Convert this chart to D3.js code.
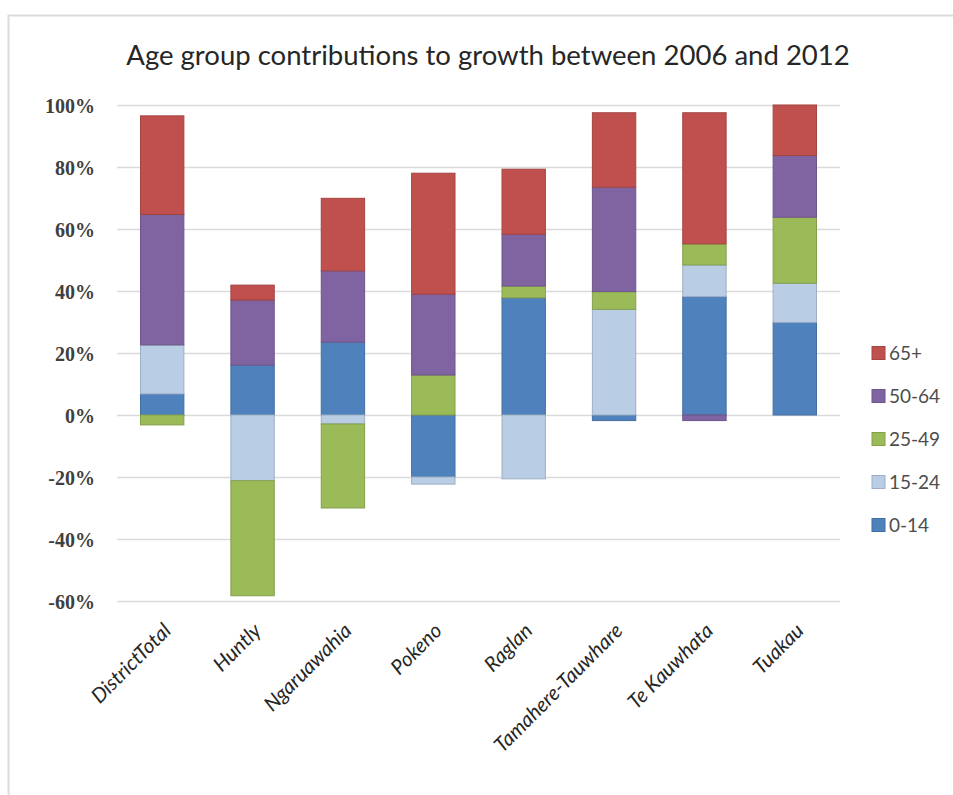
<!DOCTYPE html>
<html>
<head>
<meta charset="utf-8">
<script src="https://cdn.jsdelivr.net/npm/d3@7"></script>
<style>
  html, body { margin: 0; padding: 0; background: #fff; }
  svg { display: block; }
</style>
</head>
<body>
<svg id="chart" width="953" height="795"></svg>
<script>
// Share of population growth (2006–2012) contributed by each age group, in percent
const categories = ["DistrictTotal", "Huntly", "Ngaruawahia", "Pokeno", "Raglan",
                    "Tamahere-Tauwhare", "Te Kauwhata", "Tuakau"];
const ageGroups = ["0-14", "15-24", "25-49", "50-64", "65+"];
const age0to14  = [6.8, 16.1, 23.5, -20.0, 37.8, -1.8, 38.2, 29.9];
const age15to24 = [15.8, -21.2, -2.9, -2.3, -20.6, 34.1, 10.2, 12.6];
const age25to49 = [-3.2, -37.1, -27.1, 12.9, 3.8, 5.7, 6.8, 21.3];
const age50to64 = [42.1, 21.0, 23.0, 26.1, 16.7, 33.7, -1.8, 19.9];
const age65plus = [31.8, 4.8, 23.4, 39.0, 21.0, 24.0, 42.3, 16.3];
const yTicks = [-60, -40, -20, 0, 20, 40, 60, 80, 100];
const titleText = "Age group contributions to growth between 2006 and 2012";

const seriesValues = [age0to14, age15to24, age25to49, age50to64, age65plus];
const colors = ["#4F81BD", "#B9CDE5", "#9BBB59", "#8064A2", "#C0504D"];

const rows = categories.map((c, i) => {
  const r = { category: c };
  ageGroups.forEach((g, k) => { r[g] = seriesValues[k][i]; });
  return r;
});

const svg = d3.select("#chart");

// outer chart frame
svg.append("rect")
  .attr("x", 8.5).attr("y", 15.5)
  .attr("width", 1000).attr("height", 900)
  .attr("fill", "#fff").attr("stroke", "#dcdcdc").attr("stroke-width", 2);

const x = d3.scaleBand().domain(categories).range([117, 840])
  .paddingInner(0.52).paddingOuter(0.26);
const y = d3.scaleLinear().domain([-60, 100]).range([601, 105]);
const color = d3.scaleOrdinal().domain(ageGroups).range(colors);

// title
const title = svg.append("text")
  .attr("x", 488).attr("y", 65)
  .attr("text-anchor", "middle")
  .attr("font-family", "Lato, 'Open Sans', sans-serif")
  .attr("font-size", 24)
  .attr("fill", "#262626")
  .text(titleText);
const tw = title.node().getComputedTextLength();
title.attr("font-size", 24 * 724 / tw);

// gridlines
svg.append("g")
  .selectAll("line")
  .data(yTicks)
  .join("line")
  .attr("x1", 117).attr("x2", 840)
  .attr("y1", d => Math.round(y(d)) + 0.5)
  .attr("y2", d => Math.round(y(d)) + 0.5)
  .attr("stroke", "#dadada").attr("stroke-width", 1.5);

// y axis labels
const yAxis = d3.axisLeft(y).tickValues(yTicks).tickSize(0).tickPadding(0)
  .tickFormat(d => d + "%");
const yg = svg.append("g").attr("transform", "translate(95,0)").call(yAxis);
yg.select(".domain").remove();
yg.selectAll("text")
  .attr("font-family", "'Liberation Serif', serif")
  .attr("font-weight", "bold")
  .attr("font-size", 20)
  .attr("fill", "#3f3f3f")
  .attr("dy", "0.35em");

// stacked bars, positives above zero and negatives below
const stacked = d3.stack().keys(ageGroups).offset(d3.stackOffsetDiverging)(rows);

svg.append("g")
  .selectAll("g")
  .data(stacked)
  .join("g")
  .attr("fill", d => color(d.key))
  .attr("stroke", d => d3.color(color(d.key)).darker(0.45))
  .attr("stroke-width", 1)
  .selectAll("rect")
  .data(d => d)
  .join("rect")
  .attr("x", d => x(d.data.category))
  .attr("width", x.bandwidth())
  .attr("y", d => y(Math.max(d[0], d[1])))
  .attr("height", d => Math.abs(y(d[0]) - y(d[1])));

// category labels, rotated
const xAxis = d3.axisBottom(x).tickSize(0).tickPadding(0);
const xg = svg.append("g").call(xAxis);
xg.select(".domain").remove();
xg.selectAll(".tick")
  .attr("transform", d => `translate(${x(d) + x.bandwidth() / 2 + 10},632)`);
xg.selectAll("text")
  .attr("y", 0).attr("dy", 0)
  .attr("text-anchor", "end")
  .attr("transform", "rotate(-45)")
  .attr("font-family", "Lato, 'Open Sans', sans-serif")
  .attr("font-style", "italic")
  .attr("font-size", 20.5)
  .attr("fill", "#262626");

// legend, top to bottom from 65+ down to 0-14
const legendItems = ageGroups.slice().reverse();
const lg = svg.append("g")
  .selectAll("g")
  .data(legendItems)
  .join("g")
  .attr("transform", (d, i) => `translate(872,${353 + i * 43})`);
lg.append("rect")
  .attr("x", 0).attr("y", -6.5)
  .attr("width", 13).attr("height", 13)
  .attr("fill", d => color(d))
  .attr("stroke", d => d3.color(color(d)).darker(0.45));
lg.append("text")
  .attr("x", 17).attr("y", 0).attr("dy", "0.35em")
  .attr("font-family", "Lato, 'Open Sans', sans-serif")
  .attr("font-size", 19)
  .attr("fill", "#4d4d4d")
  .text(d => d);
</script>
</body>
</html>
